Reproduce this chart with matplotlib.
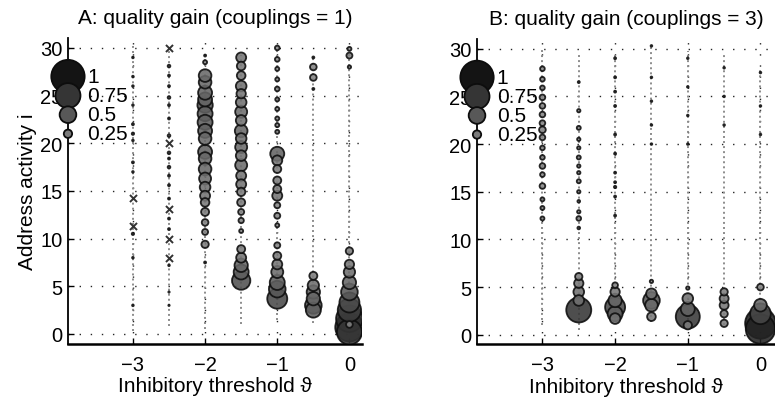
import matplotlib
matplotlib.use('Agg')
import matplotlib.pyplot as plt
import numpy as np

plt.rcParams['font.family'] = ['Liberation Sans', 'DejaVu Sans']

thresholds = [-3.0, -2.5, -2.0, -1.5, -1.0, -0.5, 0.0]
x_ticks = [-3, -2, -1, 0]
y_ticks = [0, 5, 10, 15, 20, 25, 30]
legend_gain = [1.0, 0.75, 0.5, 0.25]
legend_y = [27, 25, 23, 21]
legend_txt = ['1', '0.75', '0.5', '0.25']

# ---- panel A (couplings = 1): faint trace extent per threshold
a_trace_lo = [0.3, 0.8, 0.5, 1.0, 1.5, 1.2, 0.5]
a_trace_hi = [30.2, 30.0, 29.5, 29.3, 30.2, 29.2, 30.2]

a_y_m30 = [29, 27, 26, 24, 22, 21, 20.3, 18, 17, 10.5, 8, 3]
a_g_m30 = [0.05, 0.05, 0.05, 0.05, 0.06, 0.07, 0.05, 0.06, 0.05, 0.07, 0.05, 0.05]
a_y_m25 = [28.1, 27.1, 26, 24.8, 24, 22.6, 20.8, 19, 18.4, 17.5, 16.6, 15.6, 14.2,
           12.1, 11, 7.2, 4.4, 3]
a_g_m25 = [0.08, 0.06, 0.06, 0.08, 0.06, 0.06, 0.08, 0.08, 0.06, 0.08, 0.06, 0.06, 0.06,
           0.06, 0.06, 0.05, 0.04, 0.04]
a_y_m20 = [29.2, 28.5, 27.1, 26.4, 25.3, 24.6, 24, 23.1, 22.2, 21.3, 20.5, 19.1, 18.4,
           17.3, 16.3, 15.4, 14.5, 13.8, 12.8, 11.7, 10.7, 9.4, 7.5]
a_g_m20 = [0.06, 0.12, 0.38, 0.38, 0.42, 0.42, 0.46, 0.45, 0.45, 0.42, 0.38, 0.42, 0.38,
           0.38, 0.36, 0.32, 0.3, 0.26, 0.24, 0.2, 0.18, 0.22, 0.06]
a_y_m15 = [29, 28.1, 27.1, 26, 25.2, 24.3, 23.3, 22.4, 21.3, 20.5, 19.6, 18.7, 17.7,
           16.6, 15.7, 14.9, 13.8, 12.8, 11.9, 10.8, 8.9, 8, 7.2, 6.5, 5.6]
a_g_m15 = [0.3, 0.26, 0.26, 0.32, 0.28, 0.32, 0.36, 0.32, 0.38, 0.32, 0.36, 0.32, 0.36,
           0.3, 0.3, 0.25, 0.24, 0.18, 0.16, 0.12, 0.24, 0.3, 0.4, 0.45, 0.55]
a_y_m10 = [30, 28.8, 27.8, 26.7, 25.7, 24.6, 23.6, 22.6, 21.9, 21.2, 18.9, 18.2, 17.3,
           16.1, 15.2, 14.5, 13.5, 12.4, 11.4, 9.3, 8.2, 7.3, 6.5, 5.4, 4.7, 3.7]
a_g_m10 = [0.14, 0.14, 0.12, 0.12, 0.14, 0.12, 0.12, 0.12, 0.12, 0.12, 0.42, 0.3, 0.24,
           0.24, 0.24, 0.3, 0.18, 0.18, 0.12, 0.18, 0.24, 0.3, 0.36, 0.45, 0.5, 0.6]
a_y_m05 = [29, 28, 26.9, 25.7, 6.1, 5.1, 4.4, 3.7, 3.0, 2.5]
a_g_m05 = [0.06, 0.2, 0.2, 0.06, 0.24, 0.34, 0.4, 0.4, 0.5, 0.45]
a_y_0 = [29.9, 29.2, 28, 8.7, 7.3, 6.5, 5.4, 4.4, 3.3, 2.5, 1.6, 1.0, 0.7, 0.2]
a_g_0 = [0.12, 0.18, 0.1, 0.22, 0.28, 0.34, 0.4, 0.5, 0.6, 0.7, 0.8, 0.2, 0.85, 0.75]
a_cross_x = [-3.0, -3.0, -2.5, -2.5, -2.5, -2.5, -2.5]
a_cross_y = [14.3, 11.3, 30, 20, 13.1, 10, 8]

# ---- panel B (couplings = 3)
b_trace_lo = [1.0, 0.5, 1.5, 1.3, 1.0, 1.0, 1.0]
b_trace_hi = [30.0, 29.5, 29.5, 30.3, 29.8, 29.5, 27.8]

b_y_m30 = [27.9, 26.8, 25.9, 24.9, 24, 23.1, 22.2, 21.5, 20.7, 19.6, 18.6, 17.7, 16.8,
           15.6, 14.2, 13.3, 12.2]
b_g_m30 = [0.14, 0.14, 0.14, 0.17, 0.17, 0.17, 0.17, 0.2, 0.17, 0.14, 0.14, 0.17, 0.14,
           0.17, 0.12, 0.12, 0.12]
b_y_m25 = [26.5, 23.5, 21.7, 20.5, 19.6, 18.6, 17.7, 17, 16.1, 15, 14, 12.9, 12.2, 11.2,
           6.1, 5.4, 4.5, 3.6, 2.6]
b_g_m25 = [0.06, 0.1, 0.12, 0.1, 0.1, 0.12, 0.1, 0.1, 0.12, 0.1, 0.08, 0.1, 0.14, 0.08,
           0.22, 0.28, 0.32, 0.32, 0.75]
b_y_m20 = [29, 27, 25.5, 24, 21, 19, 17, 16, 15.5, 14.5, 12.5, 5.2, 4.5, 3.6, 2.9, 2.2, 1.7]
b_g_m20 = [0.06, 0.06, 0.06, 0.06, 0.06, 0.06, 0.06, 0.06, 0.07, 0.06, 0.06,
           0.17, 0.28, 0.4, 0.6, 0.45, 0.32]
b_y_m15 = [30.3, 27, 24.5, 22, 20, 5.6, 4.3, 3.6, 3.1, 1.9]
b_g_m15 = [0.05, 0.05, 0.05, 0.05, 0.05, 0.1, 0.32, 0.5, 0.38, 0.26]
b_y_m10 = [29, 26, 23, 20, 4.9, 3.8, 2.7, 1.9, 1.0]
b_g_m10 = [0.05, 0.05, 0.05, 0.05, 0.1, 0.32, 0.42, 0.72, 0.25]
b_y_m05 = [28, 25, 22, 4.5, 3.8, 3.1, 2.2, 1.2]
b_g_m05 = [0.05, 0.05, 0.05, 0.22, 0.27, 0.27, 0.22, 0.22]
b_y_0 = [27.5, 24, 21, 5.0, 3.1, 2.2, 1.2, 0.6]
b_g_0 = [0.05, 0.05, 0.05, 0.2, 0.38, 0.62, 0.92, 0.88]
b_cross_x = []
b_cross_y = []

panels = [
    dict(title='A: quality gain (couplings = 1)', lo=a_trace_lo, hi=a_trace_hi,
         ys=[a_y_m30, a_y_m25, a_y_m20, a_y_m15, a_y_m10, a_y_m05, a_y_0],
         gs=[a_g_m30, a_g_m25, a_g_m20, a_g_m15, a_g_m10, a_g_m05, a_g_0],
         cx=a_cross_x, cy=a_cross_y, pos=[0.0877, 0.143, 0.379, 0.759], xmax=0.17),
    dict(title='B: quality gain (couplings = 3)', lo=b_trace_lo, hi=b_trace_hi,
         ys=[b_y_m30, b_y_m25, b_y_m20, b_y_m15, b_y_m10, b_y_m05, b_y_0],
         gs=[b_g_m30, b_g_m25, b_g_m20, b_g_m15, b_g_m10, b_g_m05, b_g_0],
         cx=b_cross_x, cy=b_cross_y, pos=[0.6155, 0.141, 0.3845, 0.759], xmax=0.2),
]


def bubble_style(g):
    g = np.asarray(g, dtype=float)
    s = (24.0 * g) ** 2
    shade = np.clip(0.62 - 0.55 * g, 0.08, 0.7)
    face = np.column_stack([shade, shade, shade])
    return s, face


fig = plt.figure(figsize=(7.75, 4.02), dpi=100)

for k, p in enumerate(panels):
    ax = fig.add_axes(p['pos'])
    ax.set_xlim(-3.9, p['xmax'])
    ax.set_ylim(-1, 31)

    # grid
    for t in x_ticks:
        ax.axvline(t, color='0.15', lw=1.0, ls=(0, (1, 7)), zorder=0)
    for t in y_ticks:
        ax.axhline(t, color='0.15', lw=1.0, ls=(0, (1, 7)), zorder=0)

    # faint per-threshold traces
    ax.vlines(thresholds, p['lo'], p['hi'], color='0.55', lw=1.4,
              linestyles=(0, (1, 1.6)), zorder=1)

    # bubbles, big first so smaller ones sit on top
    xs, ys, gs = [], [], []
    for t, yc, gc in zip(thresholds, p['ys'], p['gs']):
        xs += [t] * len(yc)
        ys += list(yc)
        gs += list(gc)
    xs, ys, gs = np.array(xs), np.array(ys), np.array(gs)
    order = np.argsort(-gs)
    s, face = bubble_style(gs[order])
    ax.scatter(xs[order], ys[order], s=s, c=face, edgecolors='0.05',
               linewidths=1.3, alpha=0.88, zorder=3)

    if p['cx']:
        ax.scatter(p['cx'], p['cy'], marker='x', s=26, color='0.2',
                   linewidths=1.4, zorder=4)

    # size legend on the left spine
    s, face = bubble_style(legend_gain)
    ax.scatter([-3.9] * 4, legend_y, s=s, c=face, edgecolors='0.05',
               linewidths=1.3, zorder=5, clip_on=False)
    for yv, txt in zip(legend_y, legend_txt):
        ax.text(-3.63, yv, txt, fontsize=15, va='center', ha='left', zorder=6)

    ax.set_xticks(x_ticks)
    ax.set_xticklabels(['\u22123', '\u22122', '\u22121', '0'])
    ax.set_yticks(y_ticks)
    ax.tick_params(direction='in', length=4, width=1, labelsize=14.5, pad=8)
    ax.tick_params(axis='y', pad=4)
    for side in ['top', 'right']:
        ax.spines[side].set_visible(False)
    ax.spines['left'].set_linewidth(1.3)
    ax.spines['bottom'].set_linewidth(1.8)
    ax.set_title(p['title'], fontsize=15, pad=11)
    ax.set_xlabel('Inhibitory threshold \u03d1', fontsize=15, labelpad=2)
    if k == 0:
        ax.set_ylabel('Address activity i', fontsize=15, labelpad=2)

fig.savefig('out.png', dpi=100)
